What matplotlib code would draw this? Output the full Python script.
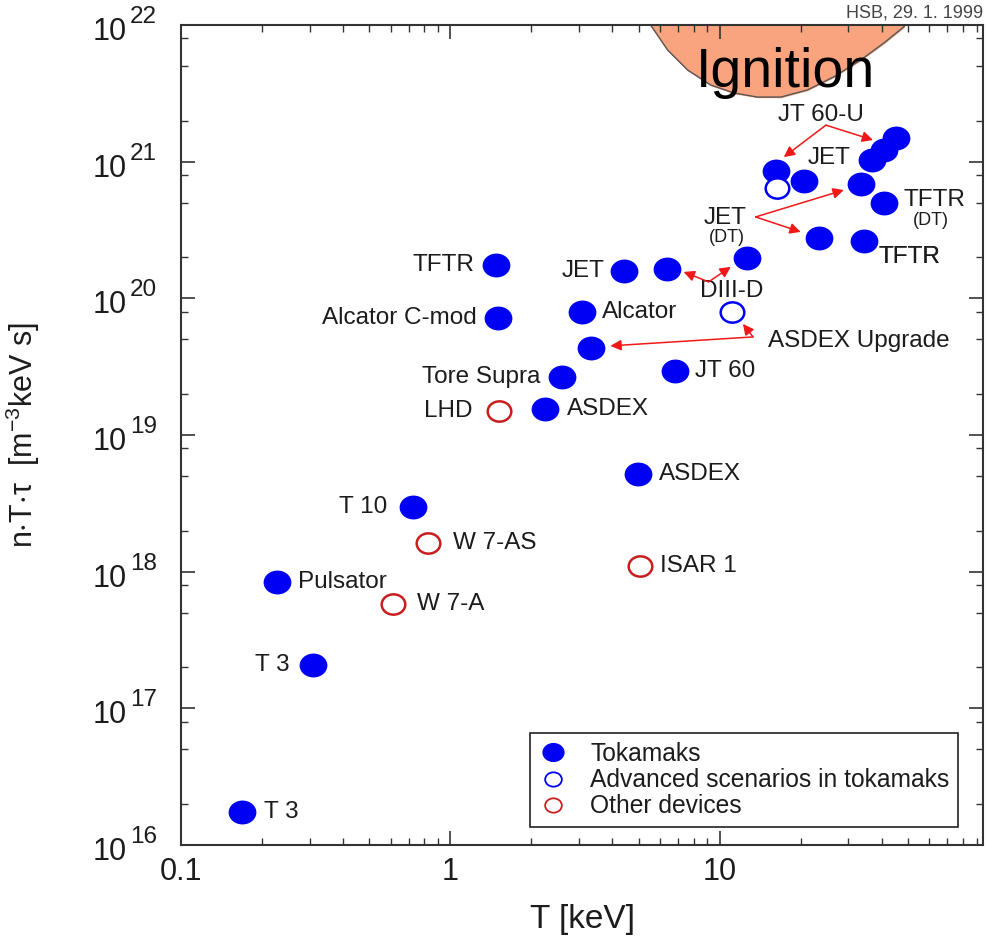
import numpy as np
import matplotlib as mpl
mpl.use('Agg')
import matplotlib.pyplot as plt
from matplotlib.path import Path
from matplotlib.lines import Line2D
from matplotlib.ticker import FixedLocator, FixedFormatter, LogLocator, NullFormatter

plt.rcParams['font.family'] = ['Liberation Sans', 'DejaVu Sans']
plt.rcParams['mathtext.fontset'] = 'custom'
plt.rcParams['mathtext.rm'] = 'Liberation Sans'
plt.rcParams['mathtext.it'] = 'Liberation Sans:italic'
plt.rcParams['mathtext.default'] = 'regular'

# --- data (T in keV, n*T*tau in m^-3 keV s) ---
tok_T = [0.169, 0.31, 0.228, 0.729, 4.96, 2.24, 2.59, 6.8, 3.34, 3.07, 1.50, 1.48,
         4.40, 6.35, 12.6, 23.3, 34.3, 40.7, 33.4, 20.5, 16.2, 36.7, 40.7, 45.1]
tok_ntt = [1.75e16, 2.08e17, 8.4e17, 2.98e18, 5.19e18, 1.55e19, 2.66e19, 2.94e19,
           4.34e19, 7.95e19, 7.19e19, 1.75e20, 1.59e20, 1.64e20, 1.98e20, 2.77e20,
           2.63e20, 4.99e20, 6.87e20, 7.22e20, 8.55e20, 1.03e21, 1.22e21, 1.49e21]
tok_names = ['T 3', 'T 3', 'Pulsator', 'T 10', 'ASDEX', 'ASDEX', 'Tore Supra', 'JT 60',
             '', 'Alcator', 'Alcator C-mod', 'TFTR', 'JET', '', '', '', 'TFTR',
             '', '', '', '', '', '', '']

adv_T = [16.3, 11.1]
adv_ntt = [6.42e20, 7.95e19]

oth_T = [1.51, 0.828, 0.614, 5.04]
oth_ntt = [1.5e19, 1.62e18, 5.81e17, 1.10e18]
oth_names = ['LHD', 'W 7-AS', 'W 7-A', 'ISAR 1']

# ignition region boundary
ign_T = [5.08, 5.54, 6.41, 7.60, 9.26, 11.3, 13.8, 16.9, 21.2, 26.5, 33.4, 40.7, 48.3, 52.2]
ign_ntt = [1.33e22, 1.0e22, 6.56e21, 4.69e21, 3.64e21, 3.18e21, 2.97e21, 2.97e21,
           3.35e21, 4.17e21, 5.55e21, 7.38e21, 9.7e21, 1.33e22]

# free labels: text, T, ntt, fontsize
free_text = [('JT 60-U', 23.7, 2.2e21, 17.5), ('JET', 25.4, 1.06e21, 17.5),
             ('JET', 10.5, 3.87e20, 17.5), ('(DT)', 10.6, 2.81e20, 13),
             ('TFTR', 62.5, 5.25e20, 17.5), ('(DT)', 60.8, 3.74e20, 13),
             ('DIII-D', 11.1, 1.13e20, 17.5)]

# arrows: (T_from, ntt_from, T_to, ntt_to)
arrows = [(24.8, 1.85e21, 17.3, 1.08e21), (24.8, 1.85e21, 37.1, 1.44e21),
          (13.6, 3.94e20, 28.9, 6.2e20), (13.6, 3.94e20, 20.0, 3.06e20),
          (9.1, 1.32e20, 7.35, 1.56e20), (9.1, 1.32e20, 11.0, 1.70e20),
          (13.3, 5.22e19, 3.93, 4.49e19), (13.3, 5.22e19, 12.2, 6.5e19)]

# label offsets in pixels (dx, dy) for point labels
tok_off = [(22, 0), (-24, 0), (21, 0), (-26, 0), (21, 0), (22, 0), (-21, 0), (20, 0),
           None, (20, 0), (-21, 0), (-22, 0), (-19, 0), None, None, None, (15, -16),
           None, None, None, None, None, None, None]
oth_off = [(-26, 0), (25, 0), (24, 0), (20, 0)]

y_exps = list(range(16, 23))

blue = '#0000f5'
red = '#c81e1e'
txtc = '#1c1c1c'

circ = Path.unit_circle()
ell = Path(circ.vertices * np.array([1.0, 0.86]), circ.codes)

fig = plt.figure(figsize=(9.87, 9.41), dpi=100)
ax = fig.add_axes([181/987, 1-845/941, (983-181)/987, (845-25)/941])
ax.set_xscale('log')
ax.set_yscale('log')
ax.set_xlim(0.1, 95)
ax.set_ylim(1e16, 1e22)

# ignition
ax.fill_between(ign_T, ign_ntt, 1e23, color='#f9a47e', zorder=1)
ax.plot(ign_T, ign_ntt, color='#555555', lw=1, zorder=1.5)
ax.text(17.6, 4.46e21, 'Ignition', fontsize=40, ha='center', va='center', color='black', zorder=6)

# points
ax.plot(tok_T, tok_ntt, ls='none', marker=ell, ms=20, color=blue, mew=0, zorder=4)
ax.plot(adv_T, adv_ntt, ls='none', marker=ell, ms=17, mfc='white', mec=blue, mew=1.8, zorder=4)
ax.plot(oth_T, oth_ntt, ls='none', marker=ell, ms=17, mfc='white', mec=red, mew=1.8, zorder=4)

def put_labels(T, v, names, offs):
    for t, n, name, off in zip(T, v, names, offs):
        if not name or off is None:
            continue
        ha = 'left' if off[0] > 0 else 'right'
        ax.annotate(name, (t, n), xytext=off, textcoords='offset pixels',
                    ha=ha, va='center', fontsize=17.5, color=txtc, zorder=5)

put_labels(tok_T, tok_ntt, tok_names, tok_off)
put_labels(oth_T, oth_ntt, oth_names, oth_off)

for s, t, v, fs in free_text:
    ax.text(t, v, s, ha='center', va='center', fontsize=fs, color=txtc, zorder=5)
ax.text(15.1, 4.88e19, 'ASDEX Upgrade', ha='left', va='center', fontsize=17.5, color=txtc, zorder=5)
ax.text(39.0, 2.01e20, 'TFTR', ha='left', va='center', fontsize=17.5, color=txtc, zorder=5)

for t0, n0, t1, n1 in arrows:
    ax.annotate('', xy=(t1, n1), xytext=(t0, n0),
                arrowprops=dict(arrowstyle='-|>', color='#f01818', lw=1.1,
                                mutation_scale=16, shrinkA=0, shrinkB=0), zorder=5)

# axes styling
ax.xaxis.set_major_locator(FixedLocator([0.1, 1, 10, 100]))
ax.xaxis.set_major_formatter(FixedFormatter(['0.1', '1', '10', '100']))
ax.xaxis.set_minor_locator(LogLocator(base=10, subs=np.arange(2, 10)))
ax.xaxis.set_minor_formatter(NullFormatter())
ax.yaxis.set_major_locator(FixedLocator([10.0**k for k in y_exps]))
ax.yaxis.set_major_formatter(NullFormatter())
ax.yaxis.set_minor_locator(LogLocator(base=10, subs=[2, 5, 8]))
ax.yaxis.set_minor_formatter(NullFormatter())
ax.tick_params(which='both', direction='in', top=True, right=True, colors='#333333',
               labelcolor=txtc)
ax.tick_params(which='major', length=10, width=1.2, labelsize=22, pad=9)
ax.tick_params(which='minor', length=5, width=1.0)
for sp in ax.spines.values():
    sp.set_color('#333333')
    sp.set_linewidth(1.5)
    sp.set_zorder(7)

# y tick labels: "10" with a large raised exponent
for k in y_exps:
    ax.annotate('10', (0, 10.0**k), xycoords=('axes fraction', 'data'),
                xytext=(-54, -7), textcoords='offset pixels', ha='right', va='center',
                fontsize=22, color=txtc, annotation_clip=False)
    ax.annotate(str(k), (0, 10.0**k), xycoords=('axes fraction', 'data'),
                xytext=(-51, 8), textcoords='offset pixels', ha='left', va='center',
                fontsize=17.5, color=txtc, annotation_clip=False)

ax.set_xlabel('T [keV]', fontsize=24, color=txtc)
ax.xaxis.set_label_coords(0.5, -0.072)
ax.xaxis.label.set_va('top')
ax.set_ylabel(r'n$\cdot$T$\cdot$τ  [m$^{-3}$keV s]', fontsize=22, color=txtc)
ax.yaxis.set_label_coords(-0.173, 0.5)

ax.text(1.0, 1.004, 'HSB, 29. 1. 1999', transform=ax.transAxes, ha='right', va='bottom',
        fontsize=13, color='#444444')

handles = [Line2D([], [], ls='none', marker=ell, ms=16, color=blue, mew=0),
           Line2D([], [], ls='none', marker=ell, ms=12, mfc='white', mec=blue, mew=1.3),
           Line2D([], [], ls='none', marker=ell, ms=12, mfc='white', mec=red, mew=1.3)]
leg = ax.legend(handles, ['Tokamaks', 'Advanced scenarios in tokamaks', 'Other devices'],
                loc='lower right', bbox_to_anchor=(0.969, 0.022), borderaxespad=0,
                fontsize=17.7, labelspacing=0.09, handlelength=1.2, handletextpad=0.9,
                borderpad=0.35, fancybox=False, framealpha=1, edgecolor='#222222')
leg.get_frame().set_linewidth(1.2)
for tx in leg.get_texts():
    tx.set_color(txtc)

fig.savefig('out.png', dpi=100)
